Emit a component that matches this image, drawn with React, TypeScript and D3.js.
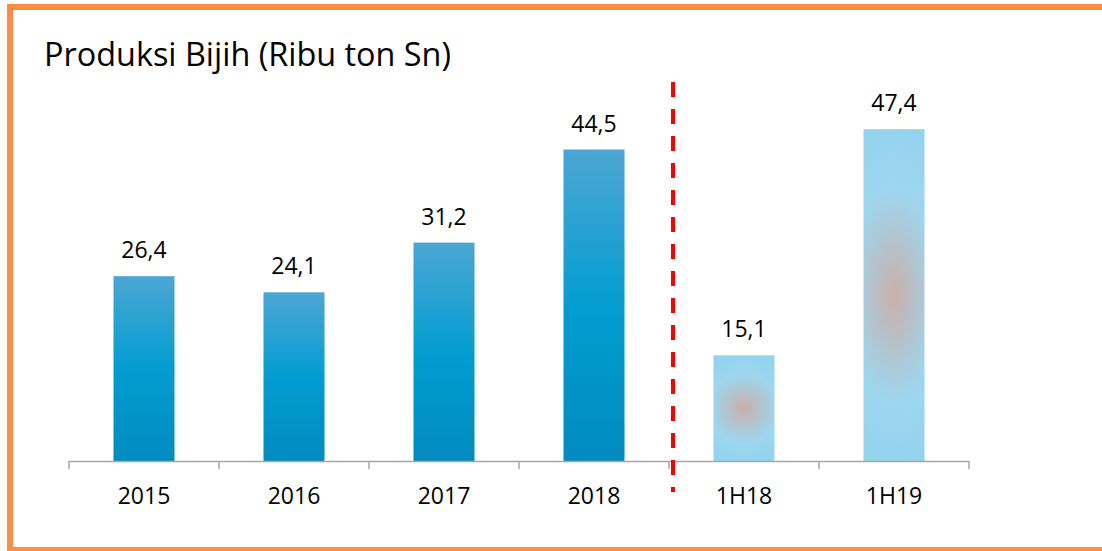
import React from "react";
import * as d3 from "d3";

const categories = ["2015", "2016", "2017", "2018", "1H18", "1H19"];
const values = [26.4, 24.1, 31.2, 44.5, 15.1, 47.4];
const valueLabels = ["26,4", "24,1", "31,2", "44,5", "15,1", "47,4"];
const halfYear = [false, false, false, false, true, true];
const title = "Produksi Bijih (Ribu ton Sn)";

const W = 1102;
const H = 551;
const FONT = "'Open Sans', 'Noto Sans', sans-serif";

export default function App() {
  const x = d3.scaleBand<string>().domain(categories).range([69, 969]).padding(0);
  const y = d3.scaleLinear().domain([0, 50]).range([461, 111]);
  const barW = 61;
  const ticks = [...categories.map((c) => x(c)!), 969];
  const divider = (x("2018")! + x.bandwidth() + x("1H18")!) / 2 + 4;

  const bars = categories.map((c, i) => {
    const cx = x(c)! + x.bandwidth() / 2;
    const top = y(values[i]);
    const bottom = y(0);
    return { c, i, cx, top, bottom, cy: (top + bottom) / 2, hh: (bottom - top) / 2 };
  });

  return (
    <svg width={W} height={H} style={{ position: "absolute", left: 0, top: 0, background: "#fff" }}>
      <defs>
        <linearGradient id="dark" x1="0" y1="0" x2="0" y2="1">
          <stop offset="0" stopColor="#4CA6D3" />
          <stop offset="0.5" stopColor="#039DD1" />
          <stop offset="1" stopColor="#008BBF" />
        </linearGradient>
        {bars
          .filter((b) => halfYear[b.i])
          .map((b) => {
            const rx = Math.min(b.hh, 70);
            return (
              <radialGradient
                key={b.c}
                id={`light${b.i}`}
                gradientUnits="userSpaceOnUse"
                cx={b.cx}
                cy={b.cy}
                r={b.hh}
                gradientTransform={`translate(${b.cx},${b.cy}) scale(${rx / b.hh},1) translate(${-b.cx},${-b.cy})`}
              >
                <stop offset="0" stopColor="#C8B1AA" />
                <stop offset="0.2" stopColor="#BDBBBF" />
                <stop offset="0.45" stopColor="#AACBDB" />
                <stop offset="0.65" stopColor="#9DD6EF" />
                <stop offset="1" stopColor="#94D3EE" />
              </radialGradient>
            );
          })}
      </defs>
      <rect x={10} y={7} width={W} height={543} fill="none" stroke="#FF8C42" strokeWidth={6} />
      <text x={44} y={66} fontFamily={FONT} fontSize={32.4} fill="#000">
        {title}
      </text>
      {bars.map((b) => (
        <g key={b.c}>
          <rect
            x={b.cx - barW / 2}
            y={b.top}
            width={barW}
            height={b.bottom - b.top}
            fill={halfYear[b.i] ? `url(#light${b.i})` : "url(#dark)"}
          />
          <text x={b.cx} y={b.top - 18} textAnchor="middle" fontFamily={FONT} fontSize={23} fill="#000">
            {valueLabels[b.i]}
          </text>
          <text x={b.cx} y={504} textAnchor="middle" fontFamily={FONT} fontSize={23} fill="#000">
            {b.c}
          </text>
        </g>
      ))}
      <line x1={69} x2={969} y1={461.5} y2={461.5} stroke="#A6A6A6" strokeWidth={1.5} />
      {ticks.map((t, i) => (
        <line key={i} x1={t} x2={t} y1={461} y2={469} stroke="#A6A6A6" strokeWidth={1.5} />
      ))}
      <line x1={divider} x2={divider} y1={82} y2={492} stroke="#FF0000" strokeWidth={4} strokeDasharray="15 12" />
    </svg>
  );
}
